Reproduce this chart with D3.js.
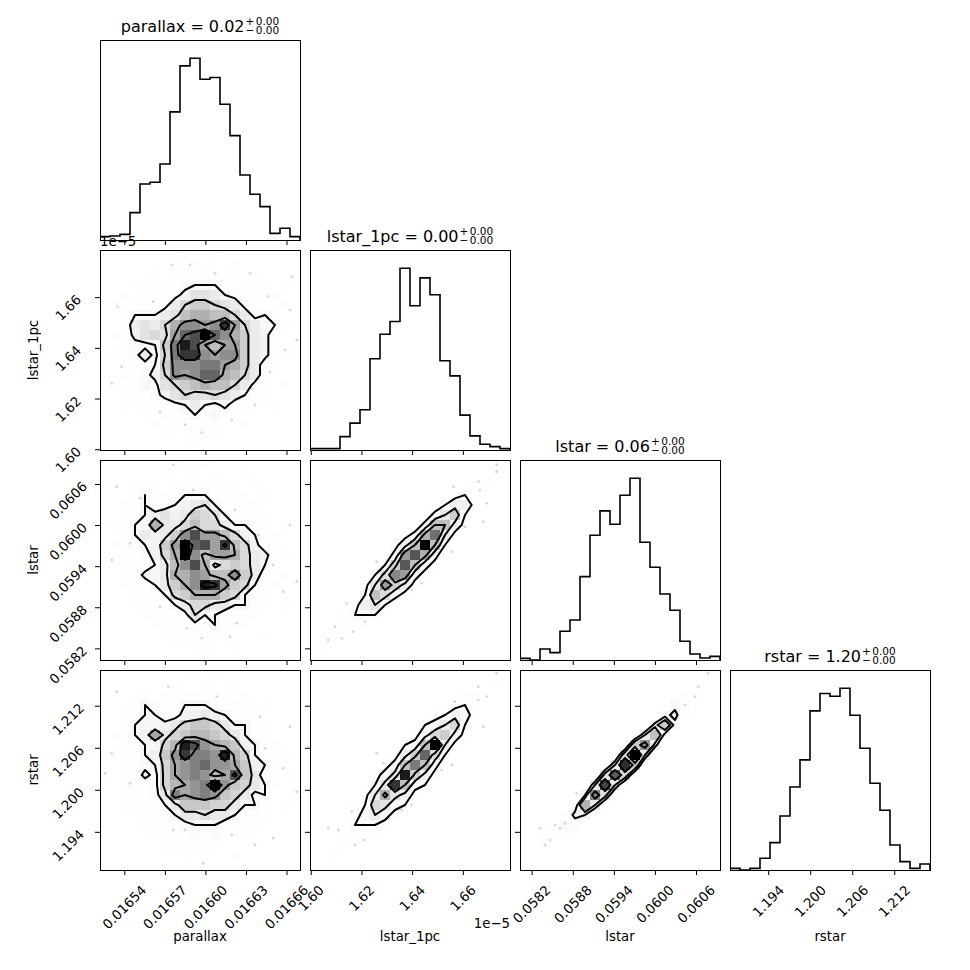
<!DOCTYPE html>
<html lang="en">
<head>
<meta charset="UTF-8">
<title>corner plot</title>
<style>
  body { margin: 0; padding: 0; background: white; }
  text { font-family: "DejaVu Sans", sans-serif; fill: #000; }
</style>
</head>
<body>
<script src="https://cdn.jsdelivr.net/npm/d3@7"></script>
<script>
// parameters, plotted ranges, ticks
var labels = ['parallax', 'lstar_1pc', 'lstar', 'rstar'];
var ranges = [[0.016522, 0.016670], [1.5997, 1.6786], [0.05803, 0.06095], [1.18855, 1.21710]];
var ticks = [
  [0.01654, 0.01657, 0.01660, 0.01663, 0.01666],
  [1.60, 1.62, 1.64, 1.66],
  [0.0582, 0.0588, 0.0594, 0.0600, 0.0606],
  [1.194, 1.200, 1.206, 1.212]
];
var tickText = [
  ['0.01654', '0.01657', '0.01660', '0.01663', '0.01666'],
  ['1.60', '1.62', '1.64', '1.66'],
  ['0.0582', '0.0588', '0.0594', '0.0600', '0.0606'],
  ['1.194', '1.200', '1.206', '1.212']
];
var offsetText = [null, '1e\u22125', null, null];
var titleValue = ['0.02', '0.00', '0.06', '1.20'];
var titleUp = ['0.00', '0.00', '0.00', '0.00'];
var titleDown = ['0.00', '0.00', '0.00', '0.00'];

// probability mass enclosed by the contours
var levels = [0.118, 0.393, 0.675, 0.865];

// 1d histograms, 20 bins each
var hist_parallax = [10, 12, 17, 82, 168, 173, 228, 384, 522, 545, 482, 487, 407, 313, 195, 137, 100, 20, 35, 10];
var hist_lstar_1pc = [4, 4, 4, 40, 80, 120, 272, 345, 383, 542, 430, 513, 463, 266, 221, 104, 42, 17, 10, 4];
var hist_lstar = [5, 0, 33, 22, 86, 120, 250, 374, 447, 407, 494, 545, 353, 278, 198, 149, 56, 18, 6, 11];
var hist_rstar = [5, 0, 5, 35, 82, 162, 249, 330, 477, 529, 521, 545, 464, 365, 260, 179, 75, 25, 5, 18];

// 2d histograms, 20x20, first row = top of the panel
var dens_lstar1pc_parallax = [
  [0,0,0,0,0,0,0,0,1,0,0,1,0,0,0,0,0,0,0,0],
  [0,0,0,0,0,0,0,1,0,1,0,0,0,1,0,0,0,0,0,0],
  [0,0,0,0,0,1,0,1,1,1,1,1,0,1,0,1,0,0,0,0],
  [0,0,0,1,0,1,1,1,2,3,3,3,1,1,1,0,1,0,1,0],
  [0,0,1,0,1,1,1,2,4,6,6,5,3,2,1,1,0,1,0,0],
  [0,1,0,1,1,1,2,5,7,8,8,7,6,5,2,1,1,0,1,0],
  [0,0,1,3,3,3,5,6,9,10,10,9,9,7,5,2,3,1,0,0],
  [0,0,1,5,6,5,7,10,12,12,11,12,16,11,7,5,3,3,1,0],
  [0,1,1,4,6,7,6,11,14,15,18,14,12,10,8,5,4,1,0,0],
  [0,0,1,2,2,3,8,13,17,15,11,9,11,11,8,5,4,1,0,1],
  [0,1,1,2,5,2,7,13,16,16,12,11,12,12,8,5,4,1,1,0],
  [0,0,1,1,2,3,8,12,12,12,13,13,11,10,8,5,1,1,0,0],
  [0,0,1,1,2,4,7,12,11,12,14,14,10,9,7,5,1,0,0,0],
  [0,1,0,1,3,2,6,7,8,9,10,9,9,7,5,2,1,0,1,0],
  [0,0,1,1,1,2,4,6,7,6,6,7,6,5,3,1,1,0,0,0],
  [0,0,1,0,1,1,1,2,3,5,3,2,4,1,1,1,0,1,0,0],
  [0,0,0,0,1,0,1,1,2,3,1,3,1,1,0,0,0,0,0,0],
  [0,0,0,0,0,1,0,1,1,1,1,1,0,0,1,0,0,0,0,0],
  [0,0,0,0,0,0,1,0,0,1,0,1,0,0,0,0,0,0,0,0],
  [0,0,0,0,0,0,0,0,0,1,0,0,0,0,0,0,0,0,0,0]
];
var dens_lstar_parallax = [
  [0,0,0,0,0,0,0,0,1,0,1,0,0,0,0,0,0,0,0,0],
  [0,0,0,0,0,0,1,0,0,1,0,1,0,0,1,0,0,0,0,0],
  [0,0,0,1,0,1,0,1,1,1,1,1,1,1,0,1,0,0,0,0],
  [0,0,0,1,3,1,1,1,3,3,3,1,1,1,1,0,1,0,0,0],
  [0,0,1,1,3,1,1,3,4,5,6,3,1,1,1,1,0,0,0,0],
  [0,0,1,1,3,4,6,4,5,8,7,6,3,1,1,1,1,0,0,0],
  [0,1,1,3,3,10,5,5,7,9,7,7,5,3,3,1,1,0,1,0],
  [0,0,1,3,5,4,5,8,12,15,11,11,9,7,4,3,1,1,0,0],
  [0,1,1,1,3,4,8,11,18,14,15,11,16,9,7,4,1,1,0,0],
  [0,0,1,1,2,4,7,10,18,12,9,11,11,10,7,5,4,1,1,0],
  [1,0,1,1,1,3,5,9,12,15,10,5,7,8,7,5,3,1,0,0],
  [0,0,1,1,4,3,5,10,10,12,11,9,9,12,8,5,1,0,1,0],
  [0,0,1,1,1,3,5,8,10,12,17,16,11,8,7,3,1,1,0,0],
  [0,0,0,1,1,1,3,7,8,10,10,10,8,7,3,1,1,0,0,0],
  [0,0,0,1,1,1,1,3,5,7,7,5,5,3,3,1,1,0,1,0],
  [0,0,0,0,1,1,1,1,2,6,3,3,1,1,1,1,0,0,0,0],
  [0,0,0,0,0,1,1,1,1,2,1,3,1,1,1,0,0,0,0,0],
  [0,0,0,0,0,0,1,1,1,1,1,1,1,0,0,0,1,0,0,0],
  [0,0,0,0,0,0,0,1,0,1,1,0,0,1,0,0,0,0,0,0],
  [0,0,0,0,0,0,0,0,0,0,1,0,0,0,0,0,0,0,0,0]
];
var dens_lstar_lstar1pc = [
  [0,0,0,0,0,0,0,0,0,0,0,0,0,0,0,0,0,0,0,1],
  [0,0,0,0,0,0,0,0,0,0,0,0,0,0,0,0,0,0,1,0],
  [0,0,0,0,0,0,0,0,0,0,0,0,0,0,0,0,1,1,0,0],
  [0,0,0,0,0,0,0,0,0,0,0,0,0,0,1,2,1,0,0,0],
  [0,0,0,0,0,0,0,0,0,0,0,0,0,2,4,4,1,0,0,0],
  [0,0,0,0,0,0,0,0,0,0,0,0,3,5,7,2,0,0,0,0],
  [0,0,0,0,0,0,0,0,0,0,0,3,8,8,4,1,0,0,0,0],
  [0,0,0,0,0,0,0,0,0,1,3,9,12,5,1,0,0,0,0,0],
  [0,0,0,0,0,0,0,0,1,4,8,16,8,2,0,0,0,0,0,0],
  [0,0,0,0,0,0,0,0,3,10,13,9,3,0,0,0,0,0,0,0],
  [0,0,0,0,0,0,0,2,7,13,8,3,1,0,0,0,0,0,0,0],
  [0,0,0,0,0,0,2,6,11,10,3,1,0,0,0,0,0,0,0,0],
  [0,0,0,0,0,1,5,10,7,4,1,0,0,0,0,0,0,0,0,0],
  [0,0,0,0,0,2,8,6,3,1,0,0,0,0,0,0,0,0,0,0],
  [0,0,0,0,1,4,5,2,0,0,0,0,0,0,0,0,0,0,0,0],
  [0,0,0,1,2,2,2,0,0,0,0,0,0,0,0,0,0,0,0,0],
  [0,0,0,1,1,1,0,0,0,0,0,0,0,0,0,0,0,0,0,0],
  [0,0,1,1,0,0,0,0,0,0,0,0,0,0,0,0,0,0,0,0],
  [0,1,0,0,0,0,0,0,0,0,0,0,0,0,0,0,0,0,0,0],
  [0,0,0,0,0,0,0,0,0,0,0,0,0,0,0,0,0,0,0,0]
];
var dens_rstar_parallax = [
  [0,0,0,0,0,0,0,0,0,1,0,1,0,0,0,0,0,0,0,0],
  [0,0,0,0,0,0,0,1,0,0,1,0,0,1,0,0,0,0,0,0],
  [0,0,0,0,1,0,1,1,1,1,1,1,1,0,1,0,0,0,0,0],
  [0,0,0,1,3,1,1,1,3,3,3,1,1,1,1,0,1,0,0,0],
  [0,0,1,1,3,3,1,2,4,4,5,4,3,1,1,1,0,0,0,0],
  [0,0,1,3,3,3,4,5,7,8,8,7,5,3,3,1,1,0,0,0],
  [0,1,1,3,4,10,5,7,8,9,9,8,7,5,3,1,1,0,0,0],
  [0,0,1,1,3,3,7,9,16,14,11,10,9,8,4,3,1,1,0,0],
  [0,1,1,1,3,4,8,11,15,12,12,11,16,9,7,3,1,1,1,0],
  [0,0,1,1,2,3,7,10,11,12,13,11,11,10,8,4,3,1,0,0],
  [1,0,1,1,4,2,7,10,11,12,11,9,10,14,8,5,1,1,0,1],
  [0,0,1,1,1,2,7,9,10,11,12,17,11,8,7,5,3,1,0,0],
  [0,0,1,1,1,2,5,12,10,11,12,11,8,7,5,2,3,0,0,0],
  [0,0,1,1,1,1,3,5,8,8,8,7,7,5,3,3,1,0,1,0],
  [0,0,0,0,1,1,1,3,5,5,6,5,5,3,1,1,1,0,0,0],
  [0,0,0,0,1,1,1,1,2,3,3,3,1,1,1,1,0,0,0,0],
  [0,0,0,0,0,1,1,1,1,2,1,2,1,1,1,0,0,0,0,0],
  [0,0,0,0,0,0,1,1,1,1,1,1,0,0,0,0,0,0,0,0],
  [0,0,0,0,0,0,0,0,1,0,1,0,0,1,0,0,0,0,0,0],
  [0,0,0,0,0,0,0,0,0,0,0,0,0,0,0,0,0,0,0,0]
];
var dens_rstar_lstar1pc = [
  [0,0,0,0,0,0,0,0,0,0,0,0,0,0,0,0,0,0,0,1],
  [0,0,0,0,0,0,0,0,0,0,0,0,0,0,0,0,0,0,1,0],
  [0,0,0,0,0,0,0,0,0,0,0,0,0,0,0,1,1,1,0,0],
  [0,0,0,0,0,0,0,0,0,0,0,0,0,0,1,2,1,0,0,0],
  [0,0,0,0,0,0,0,0,0,0,0,0,1,2,4,3,1,0,0,0],
  [0,0,0,0,0,0,0,0,0,0,0,2,3,5,7,2,0,0,0,0],
  [0,0,0,0,0,0,0,0,0,0,1,4,7,8,4,1,0,0,0,0],
  [0,0,0,0,0,0,0,0,0,2,3,9,18,5,1,0,0,0,0,0],
  [0,0,0,0,0,0,0,0,1,4,8,14,7,2,0,0,0,0,0,0],
  [0,0,0,0,0,0,0,1,3,9,13,9,3,0,0,0,0,0,0,0],
  [0,0,0,0,0,0,1,3,6,17,8,4,1,0,0,0,0,0,0,0],
  [0,0,0,0,0,0,2,6,16,9,3,2,0,0,0,0,0,0,0,0],
  [0,0,0,0,0,1,5,10,6,4,1,0,0,0,0,0,0,0,0,0],
  [0,0,0,0,1,2,7,6,3,2,0,0,0,0,0,0,0,0,0,0],
  [0,0,0,0,1,3,5,3,1,0,0,0,0,0,0,0,0,0,0,0],
  [0,0,0,1,2,2,2,1,0,0,0,0,0,0,0,0,0,0,0,0],
  [0,0,0,1,1,1,1,0,0,0,0,0,0,0,0,0,0,0,0,0],
  [0,0,0,1,0,0,0,0,0,0,0,0,0,0,0,0,0,0,0,0],
  [0,0,1,0,0,0,0,0,0,0,0,0,0,0,0,0,0,0,0,0],
  [0,0,0,0,0,0,0,0,0,0,0,0,0,0,0,0,0,0,0,0]
];
var dens_rstar_lstar = [
  [0,0,0,0,0,0,0,0,0,0,0,0,0,0,0,0,0,0,0,1],
  [0,0,0,0,0,0,0,0,0,0,0,0,0,0,0,0,0,0,0,0],
  [0,0,0,0,0,0,0,0,0,0,0,0,0,0,0,0,1,1,0,0],
  [0,0,0,0,0,0,0,0,0,0,0,0,0,0,0,3,2,0,0,0],
  [0,0,0,0,0,0,0,0,0,0,0,0,0,0,3,5,1,0,0,0],
  [0,0,0,0,0,0,0,0,0,0,0,0,0,5,9,3,0,0,0,0],
  [0,0,0,0,0,0,0,0,0,0,0,1,6,10,3,0,0,0,0,0],
  [0,0,0,0,0,0,0,0,0,0,1,9,13,5,0,0,0,0,0,0],
  [0,0,0,0,0,0,0,0,0,1,8,20,6,0,0,0,0,0,0,0],
  [0,0,0,0,0,0,0,0,1,6,18,9,0,0,0,0,0,0,0,0],
  [0,0,0,0,0,0,0,0,7,16,8,1,0,0,0,0,0,0,0,0],
  [0,0,0,0,0,0,0,6,17,6,1,0,0,0,0,0,0,0,0,0],
  [0,0,0,0,0,0,4,14,7,1,0,0,0,0,0,0,0,0,0,0],
  [0,0,0,0,0,2,11,6,1,0,0,0,0,0,0,0,0,0,0,0],
  [0,0,0,0,1,5,4,0,0,0,0,0,0,0,0,0,0,0,0,0],
  [0,0,0,0,3,2,0,0,0,0,0,0,0,0,0,0,0,0,0,0],
  [0,0,1,1,1,0,0,0,0,0,0,0,0,0,0,0,0,0,0,0],
  [0,0,1,0,0,0,0,0,0,0,0,0,0,0,0,0,0,0,0,0],
  [0,0,0,0,0,0,0,0,0,0,0,0,0,0,0,0,0,0,0,0],
  [0,0,0,0,0,0,0,0,0,0,0,0,0,0,0,0,0,0,0,0]
];

// stray samples outside the outer contours, [x, y] in data units
var pts_lstar1pc_parallax = [
  [0.0165348, 1.6562], [0.0165751, 1.6727], [0.0165886, 1.6727], [0.0166071, 1.6694], [0.0166330, 1.6694],
  [0.0166639, 1.6681], [0.0166626, 1.6549], [0.0166676, 1.6431], [0.0166589, 1.6392], [0.0166478, 1.6306],
  [0.0166343, 1.6240], [0.0166367, 1.6175], [0.0166195, 1.6115], [0.0165973, 1.6065], [0.0165849, 1.6096],
  [0.0165664, 1.6148], [0.0165307, 1.6260], [0.0165381, 1.6326], [0.0165614, 1.6582], [0.0166465, 1.6602]
];
var pts_lstar_parallax = [
  [0.0165344, 0.060560], [0.0165762, 0.060877], [0.0165910, 0.060512], [0.0166219, 0.060220], [0.0166391, 0.059855],
  [0.0166626, 0.060001], [0.0166502, 0.059417], [0.0166676, 0.059173], [0.0166576, 0.059027], [0.0166232, 0.058566],
  [0.0166182, 0.058370], [0.0165973, 0.058347], [0.0165862, 0.058493], [0.0165664, 0.058808], [0.0165442, 0.059734],
  [0.0165307, 0.059490], [0.0165516, 0.060391]
];
var pts_lstar_lstar1pc = [
  [1.67335, 0.060877], [1.67335, 0.060779], [1.66609, 0.060633], [1.66677, 0.060512], [1.66941, 0.060318],
  [1.66807, 0.060049], [1.65623, 0.060560], [1.66085, 0.059976], [1.65560, 0.059611], [1.64377, 0.059150],
  [1.63982, 0.059052], [1.62601, 0.059465], [1.61418, 0.058858], [1.60956, 0.058516], [1.60692, 0.058322],
  [1.61221, 0.058347], [1.61678, 0.058443], [1.62140, 0.058589]
];
var pts_rstar_parallax = [
  [0.0165344, 1.21400], [0.0165725, 1.21472], [0.0166084, 1.21329], [0.0166404, 1.21043], [0.0166626, 1.20901],
  [0.0166441, 1.20592], [0.0166576, 1.20307], [0.0166676, 1.19973], [0.0166502, 1.19308], [0.0166367, 1.19212],
  [0.0166195, 1.19355], [0.0165984, 1.18951], [0.0165849, 1.19426], [0.0165762, 1.19426], [0.0165442, 1.20093],
  [0.0165307, 1.20521], [0.0165257, 1.20235]
];
var pts_rstar_lstar1pc = [
  [1.67335, 1.21663], [1.66609, 1.21472], [1.66941, 1.21329], [1.66609, 1.21282], [1.65690, 1.21257],
  [1.66807, 1.20901], [1.65560, 1.20354], [1.65166, 1.20283], [1.63982, 1.19783], [1.63588, 1.19712],
  [1.63059, 1.19593], [1.62601, 1.20521], [1.62862, 1.20378], [1.61615, 1.19687], [1.61086, 1.19426],
  [1.60692, 1.19450], [1.61745, 1.19212], [1.62073, 1.19283]
];
var pts_rstar_lstar = [
  [0.060779, 1.21663], [0.060633, 1.21472], [0.060585, 1.21329], [0.060439, 1.21210], [0.058322, 1.19450],
  [0.058395, 1.19212], [0.058468, 1.19283], [0.058541, 1.19497], [0.058614, 1.19450], [0.058687, 1.19522],
  [0.058858, 1.19950]
];

var hists = [hist_parallax, hist_lstar_1pc, hist_lstar, hist_rstar];
var grids = {
  '1,0': dens_lstar1pc_parallax,
  '2,0': dens_lstar_parallax,
  '2,1': dens_lstar_lstar1pc,
  '3,0': dens_rstar_parallax,
  '3,1': dens_rstar_lstar1pc,
  '3,2': dens_rstar_lstar
};
var samples = {
  '1,0': pts_lstar1pc_parallax,
  '2,0': pts_lstar_parallax,
  '2,1': pts_lstar_lstar1pc,
  '3,0': pts_rstar_parallax,
  '3,1': pts_rstar_lstar1pc,
  '3,2': pts_rstar_lstar
};

var nbins = 20, size = 200, step = 210, padLeft = 100, padTop = 40;
var tickFont = '13.3px';

var svg = d3.select('body').append('svg')
  .attr('width', 970)
  .attr('height', 970);

function edges(r) {
  return d3.range(nbins + 1).map(function(k) { return r[0] + k * (r[1] - r[0]) / nbins; });
}

// same rule as corner.hist2d: count level holding the given mass
function massLevels(flat) {
  var sorted = flat.slice().sort(function(a, b) { return b - a; });
  var total = d3.sum(sorted), cum = 0;
  var sm = sorted.map(function(v) { cum += v; return cum / total; });
  var V = levels.map(function(l) {
    var v = sorted[0];
    for (var k = 0; k < sorted.length; k++) if (sm[k] <= l) v = sorted[k];
    return v;
  });
  V.sort(d3.ascending);
  for (var k = 1; k < V.length; k++) {
    if (V[k] === V[k - 1]) { V[k - 1] *= 1 - 1e-4; break; }
  }
  return V.sort(d3.ascending);
}

function drawHist(g, counts, x, r) {
  var e = edges(r);
  var y = d3.scaleLinear().domain([0, 1.1 * d3.max(counts)]).range([size, 0]);
  var pts = [[e[0], 0]];
  counts.forEach(function(c, k) { pts.push([e[k], c]); });
  pts.push([e[nbins], 0]);
  g.append('path')
    .attr('d', d3.line()
      .x(function(d) { return x(d[0]); })
      .y(function(d) { return y(d[1]); })
      .curve(d3.curveStepAfter)(pts))
    .attr('fill', 'none')
    .attr('stroke', '#000')
    .attr('stroke-width', 1.6);
}

function drawDensity(g, grid, pts, x, y, rx, ry) {
  var ex = edges(rx), ey = edges(ry);

  // faint data points under everything
  g.selectAll('circle.sample').data(pts).join('circle')
    .attr('class', 'sample')
    .attr('cx', function(d) { return x(d[0]); })
    .attr('cy', function(d) { return y(d[1]); })
    .attr('r', 1.4)
    .attr('fill', '#000')
    .attr('fill-opacity', 0.16);

  var hmax = d3.max(grid, function(row) { return d3.max(row); });
  var cells = [];
  grid.forEach(function(row, r) {
    row.forEach(function(v, c) { if (v > 0) cells.push({ r: r, c: c, v: v }); });
  });
  // white -> black colormap with alpha, as corner's density_cmap
  g.selectAll('rect.cell').data(cells).join('rect')
    .attr('class', 'cell')
    .attr('x', function(d) { return x(ex[d.c]); })
    .attr('width', function(d) { return x(ex[d.c + 1]) - x(ex[d.c]); })
    .attr('y', function(d) { return y(ey[nbins - d.r]); })
    .attr('height', function(d) { return y(ey[nbins - 1 - d.r]) - y(ey[nbins - d.r]); })
    .attr('fill', function(d) {
      var t = Math.round(255 * (1 - d.v / hmax));
      return 'rgb(' + t + ',' + t + ',' + t + ')';
    })
    .attr('fill-opacity', function(d) { return d.v / hmax; })
    .attr('shape-rendering', 'crispEdges');

  var flat = [].concat.apply([], grid);
  var V = massLevels(flat);
  var contours = d3.contours().size([nbins, nbins]).thresholds(V)(flat);
  var proj = d3.geoTransform({
    point: function(px, py) {
      this.stream.point(
        x(rx[0] + px * (rx[1] - rx[0]) / nbins),
        y(ry[1] - py * (ry[1] - ry[0]) / nbins));
    }
  });
  g.selectAll('path.contour').data(contours).join('path')
    .attr('class', 'contour')
    .attr('d', d3.geoPath(proj))
    .attr('fill', 'none')
    .attr('stroke', '#000')
    .attr('stroke-width', 2)
    .attr('stroke-linejoin', 'round');
}

for (var i = 0; i < 4; i++) {
  for (var j = 0; j <= i; j++) {
    var g = svg.append('g')
      .attr('transform', 'translate(' + (padLeft + step * j) + ',' + (padTop + step * i) + ')');
    var x = d3.scaleLinear().domain(ranges[j]).range([0, size]);
    var y = d3.scaleLinear().domain(ranges[i]).range([size, 0]);
    var clipId = 'clip' + i + '' + j;
    g.append('clipPath').attr('id', clipId)
      .append('rect').attr('width', size).attr('height', size);
    var body = g.append('g').attr('clip-path', 'url(#' + clipId + ')');

    if (i === j) drawHist(body, hists[j], x, ranges[j]);
    else drawDensity(body, grids[i + ',' + j], samples[i + ',' + j], x, y, ranges[j], ranges[i]);

    g.append('rect')
      .attr('width', size).attr('height', size)
      .attr('fill', 'none').attr('stroke', '#000').attr('stroke-width', 1)
      .attr('shape-rendering', 'crispEdges');

    // x ticks on every panel
    var xa = g.append('g').attr('transform', 'translate(0,' + size + ')')
      .call(d3.axisBottom(x).tickValues(ticks[j]).tickSize(5).tickSizeOuter(0).tickFormat(''));
    xa.select('.domain').remove();

    if (i === 3) {
      ticks[j].forEach(function(t, k) {
        var lbl = g.append('text').style('font-size', tickFont)
          .attr('text-anchor', 'end').text(tickText[j][k]);
        var w = lbl.node().getComputedTextLength();
        lbl.attr('transform', 'translate(' + (x(t) + 0.354 * w + 3.4) + ',' + (size + 21) + ') rotate(-45)');
      });
      g.append('text').style('font-size', '13.3px')
        .attr('text-anchor', 'middle')
        .attr('x', size / 2).attr('y', size + 71)
        .text(labels[j]);
      if (offsetText[j]) {
        g.append('text').style('font-size', tickFont)
          .attr('text-anchor', 'end')
          .attr('x', size).attr('y', size + 58)
          .text(offsetText[j]);
      }
    }

    if (j < i) {
      var ya = g.append('g')
        .call(d3.axisLeft(y).tickValues(ticks[i]).tickSize(5).tickSizeOuter(0).tickFormat(''));
      ya.select('.domain').remove();
      if (j === 0) {
        ticks[i].forEach(function(t, k) {
          var lbl = g.append('text').style('font-size', tickFont)
            .attr('text-anchor', 'end').text(tickText[i][k]);
          var w = lbl.node().getComputedTextLength();
          lbl.attr('transform', 'translate(' + (-32 + 0.354 * w + 3.4) + ',' + (y(t) + 3.4) + ') rotate(-45)');
        });
        g.append('text').style('font-size', '13.3px')
          .attr('text-anchor', 'middle')
          .attr('transform', 'translate(-62.5,' + (size / 2) + ') rotate(-90)')
          .text(labels[i]);
        if (offsetText[i]) {
          g.append('text').style('font-size', tickFont)
            .attr('x', 0).attr('y', -4)
            .text(offsetText[i]);
        }
      }
    }

    if (i === j) {
      // title: value with stacked +/- errors, like corner's mathtext
      var tg = g.append('g');
      var main = tg.append('text').style('font-size', '16px').attr('y', -8.3)
        .text(labels[j] + ' = ' + titleValue[j]);
      var up = tg.append('text').style('font-size', '10.5px').attr('y', -15.5);
      up.append('tspan').text('+');
      up.append('tspan').attr('dx', 1.5).text(titleUp[j]);
      var dn = tg.append('text').style('font-size', '10.5px').attr('y', -6.2);
      dn.append('tspan').text('\u2212');
      dn.append('tspan').attr('dx', 1.5).text(titleDown[j]);
      var wm = main.node().getComputedTextLength();
      var ws = Math.max(up.node().getComputedTextLength(), dn.node().getComputedTextLength()) + 1.5;
      var x0 = size / 2 - (wm + 1 + ws) / 2;
      main.attr('x', x0);
      up.attr('x', x0 + wm + 1);
      dn.attr('x', x0 + wm + 1);
    }
  }
}
</script>
</body>
</html>
